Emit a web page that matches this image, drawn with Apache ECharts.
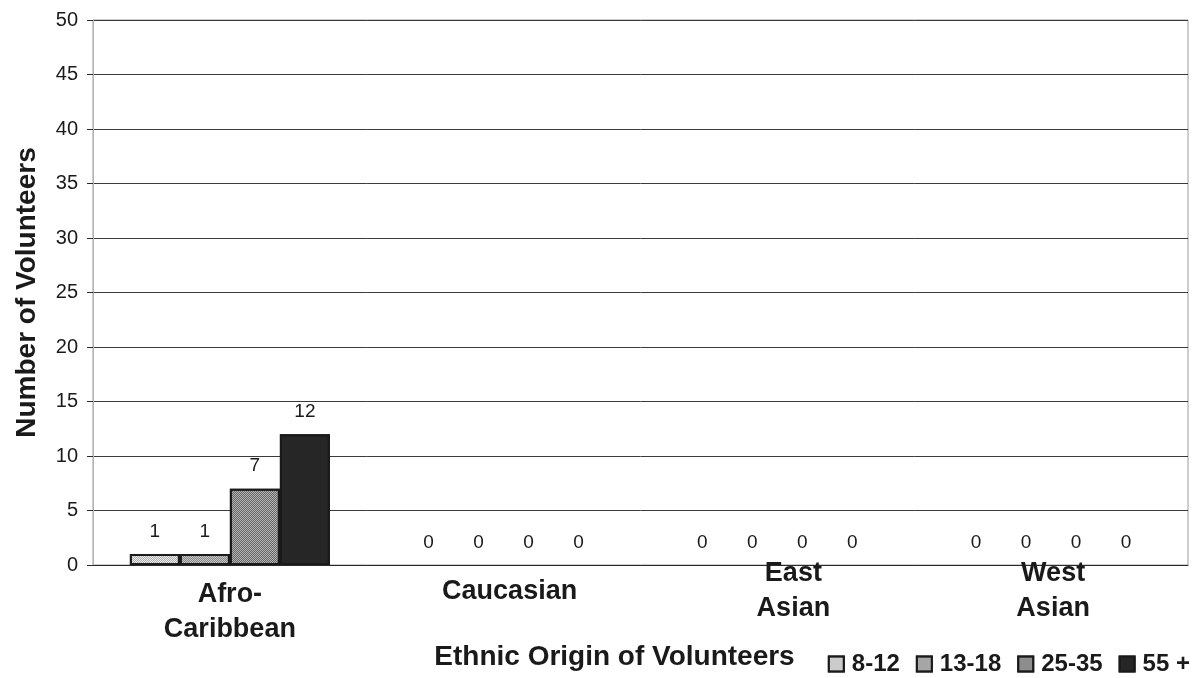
<!DOCTYPE html>
<html>
<head>
<meta charset="utf-8">
<script src="https://cdn.jsdelivr.net/npm/echarts@6/dist/echarts.min.js"></script>
<style>
  html, body { margin: 0; padding: 0; background: #fff; }
  #chart { width: 1202px; height: 678px; }
</style>
</head>
<body>
<div id="chart"></div>
<script>
// Volunteers by ethnic origin, grouped by age band
const categories = ['Afro-\nCaribbean', 'Caucasian', 'East\nAsian', 'West\nAsian'];
const ageGroups = ['8-12', '13-18', '25-35', '55 +'];
const age8to12 = [1, 0, 0, 0];
const age13to18 = [1, 0, 0, 0];
const age25to35 = [7, 0, 0, 0];
const age55plus = [12, 0, 0, 0];
const yTicks = { min: 0, max: 50, interval: 5 };

const FONT = '"Liberation Sans", Arial, Helvetica, sans-serif';
const seriesValues = [age8to12, age13to18, age25to35, age55plus];

// Stippled greys for the first three bands, solid near-black for the oldest
const fills = ['#e6e6e6', '#c2c2c2', '#b4b4b4', '#262626'];
const stipple = ['#b0b0b0', '#8a8a8a', '#666666', null];
function decalFor(i) {
  if (!stipple[i]) return { symbol: 'none' };
  return {
    symbol: 'rect', symbolSize: 1, color: stipple[i],
    dashArrayX: [[1, 1], [0, 1, 1, 0]], dashArrayY: [1, 0], rotation: 0
  };
}

// Each category label sits at its own height and offset, as laid out in the original sheet
const spacer = [21, 18, 0, 0];
const shift = [0, 6, 16, 2];
const rich = {};
categories.forEach((c, i) => {
  rich['s' + i] = { fontSize: 2, lineHeight: spacer[i] };
  rich['c' + i] = {
    fontFamily: FONT, fontSize: 27, fontWeight: 'bold', color: '#1a1a1a',
    lineHeight: 35, padding: [0, 0, 0, shift[i] * 2]
  };
});

const chart = echarts.init(document.getElementById('chart'), null, { renderer: 'canvas' });
chart.setOption({
  backgroundColor: '#ffffff',
  animation: false,
  textStyle: { fontFamily: FONT },
  grid: {
    left: 93, right: 14, top: 20, bottom: 113,
    outerBoundsMode: 'none',
    show: true, borderColor: '#9a9a9a', borderWidth: 1
  },
  legend: {
    right: 7, top: 647,
    itemWidth: 15, itemHeight: 15, itemGap: 16,
    icon: 'rect',
    textStyle: { fontFamily: FONT, fontSize: 24, fontWeight: 'bold', color: '#1a1a1a', padding: [0, 0, 0, 3] },
    data: ageGroups
  },
  xAxis: {
    type: 'category',
    data: categories,
    name: 'Ethnic Origin of Volunteers',
    nameLocation: 'middle',
    nameGap: 78,
    nameMoveOverlap: false,
    nameTextStyle: {
      fontFamily: FONT, fontSize: 28, fontWeight: 'bold', color: '#1a1a1a',
      padding: [0, 52, 0, 0], verticalAlign: 'top'
    },
    axisLine: { show: true, lineStyle: { color: '#2a2a2a', width: 1 } },
    axisTick: { show: false },
    axisLabel: {
      interval: 0,
      margin: -9,
      verticalAlign: 'top',
      formatter: (value, index) => {
        const lines = value.split('\n').map(l => '{c' + index + '|' + l + '}');
        const head = spacer[index] ? '{s' + index + '| }\n' : '';
        return head + lines.join('\n');
      },
      rich: rich
    },
    splitLine: { show: false },
    z: 5
  },
  yAxis: {
    type: 'value',
    min: yTicks.min, max: yTicks.max, interval: yTicks.interval,
    name: 'Number of Volunteers',
    nameLocation: 'middle',
    nameGap: 52,
    nameTextStyle: { fontFamily: FONT, fontSize: 28, fontWeight: 'bold', color: '#1a1a1a' },
    axisLine: { show: true, lineStyle: { color: '#b5b5b5', width: 1 } },
    axisTick: { show: true, length: 6, lineStyle: { color: '#2a2a2a' } },
    axisLabel: { fontFamily: FONT, fontSize: 20, color: '#1a1a1a', margin: 15 },
    splitLine: { show: true, lineStyle: { color: '#3a3a3a', width: 1 } }
  },
  series: ageGroups.map((name, i) => ({
    name: name,
    type: 'bar',
    // empty bars carry no outline
    data: seriesValues[i].map(v => (v === 0 ? { value: v, itemStyle: { borderWidth: 0 } } : v)),
    barWidth: 50,
    barGap: '0%',
    itemStyle: { color: fills[i], borderColor: '#1a1a1a', borderWidth: 2, decal: decalFor(i) },
    label: {
      show: true, position: 'top', distance: 13,
      fontFamily: FONT, fontSize: 19, color: '#1a1a1a'
    },
    emphasis: { disabled: true }
  }))
});
</script>
</body>
</html>
